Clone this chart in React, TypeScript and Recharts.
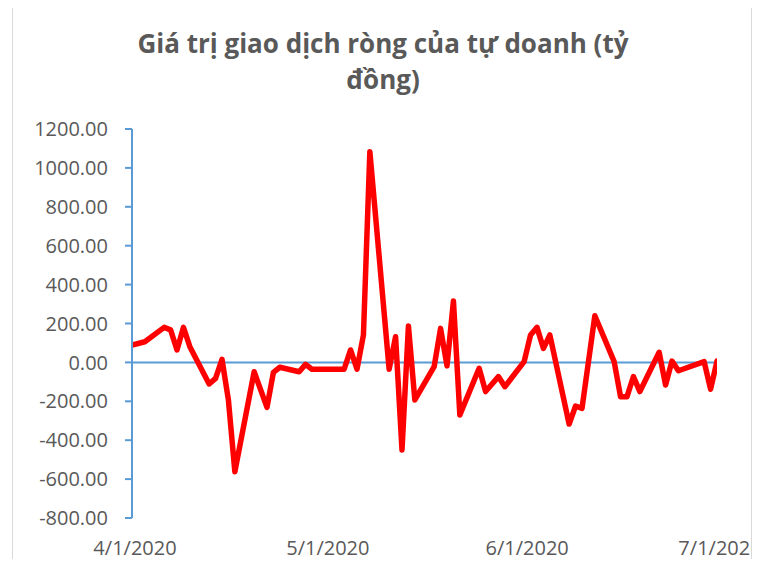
import { LineChart, Line, XAxis, YAxis, ReferenceLine } from 'recharts';

const AXIS_BLUE = '#5b9bd5';
const TEXT_GRAY = '#595959';
const FONT = '"Open Sans", "Liberation Sans", sans-serif';

const TITLE_LINES = ['Giá trị giao dịch ròng của tự doanh (tỷ', 'đồng)'];

// ngày giao dịch
const DATES = [
  '2020-04-01', '2020-04-03', '2020-04-06', '2020-04-07', '2020-04-08', '2020-04-09', '2020-04-10',
  '2020-04-13', '2020-04-14', '2020-04-15', '2020-04-16', '2020-04-17',
  '2020-04-20', '2020-04-22', '2020-04-23', '2020-04-24',
  '2020-04-27', '2020-04-28', '2020-04-29',
  '2020-05-04', '2020-05-05', '2020-05-06', '2020-05-07', '2020-05-08',
  '2020-05-11', '2020-05-12', '2020-05-13', '2020-05-14', '2020-05-15',
  '2020-05-18', '2020-05-19', '2020-05-20', '2020-05-21', '2020-05-22',
  '2020-05-25', '2020-05-26', '2020-05-28', '2020-05-29',
  '2020-06-01', '2020-06-02', '2020-06-03', '2020-06-04', '2020-06-05',
  '2020-06-08', '2020-06-09', '2020-06-10', '2020-06-12',
  '2020-06-15', '2020-06-16', '2020-06-17', '2020-06-18', '2020-06-19',
  '2020-06-22', '2020-06-23', '2020-06-24', '2020-06-25',
  '2020-06-29', '2020-06-30', '2020-07-01',
];

// giá trị ròng (tỷ đồng)
const VALUES = [
  89, 106, 180, 167, 64, 180, 81,
  -111, -82, 16, -194, -562,
  -48, -231, -51, -25,
  -48, -10, -35,
  -35, 64, -35, 141, 1083,
  -35, 132, -450, 187, -193,
  -22, 175, -18, 316, -270,
  -30, -150, -73, -125,
  4, 141, 180, 72, 141,
  -317, -224, -236, 240,
  4, -176, -176, -73, -150,
  52, -116, 7, -43,
  4, -138, 7,
];

const X_TICKS = ['2020-04-01', '2020-05-01', '2020-06-01', '2020-07-01'];
const Y_TICKS = [-800, -600, -400, -200, 0, 200, 400, 600, 800, 1000, 1200];

const toTime = (d: string) => Date.parse(d + 'T00:00:00Z');

const data = DATES.map((d, i) => ({ t: toTime(d), v: VALUES[i] }));

const fmtDate = (t: number) => {
  const d = new Date(t);
  return `${d.getUTCMonth() + 1}/${d.getUTCDate()}/${d.getUTCFullYear()}`;
};

export default function App() {
  return (
    <div style={{ position: 'relative', width: 760, height: 567, margin: -8, fontFamily: FONT }}>
      <div
        style={{
          position: 'absolute',
          left: 12,
          top: 6,
          width: 738,
          height: 570,
          border: '1px solid #d9d9d9',
          overflow: 'hidden',
          background: '#fff',
        }}
      >
        <div style={{ position: 'absolute', left: -13, top: -7 }}>
          <div
            style={{
              position: 'absolute',
              left: 0,
              top: 25,
              width: 766,
              textAlign: 'center',
              color: TEXT_GRAY,
              fontWeight: 700,
              fontSize: 26,
              lineHeight: '36px',
            }}
          >
            {TITLE_LINES.map((l) => (
              <div key={l}>{l}</div>
            ))}
          </div>
          <LineChart
            width={760}
            height={567}
            data={data}
            margin={{ top: 129, right: 43, bottom: 19, left: 0 }}
          >
            <XAxis
              dataKey="t"
              type="number"
              scale="time"
              domain={[toTime(X_TICKS[0]), toTime(X_TICKS[X_TICKS.length - 1])]}
              ticks={X_TICKS.map(toTime)}
              tickFormatter={fmtDate}
              axisLine={false}
              tickLine={false}
              tickSize={0}
              tickMargin={23}
              height={30}
              interval={0}
              allowDataOverflow
              tick={{ fill: TEXT_GRAY, fontSize: 20, fontFamily: FONT, dx: 3 }}
            />
            <YAxis
              type="number"
              domain={[-800, 1200]}
              ticks={Y_TICKS}
              interval={0}
              width={132}
              tickSize={7}
              tickMargin={17}
              tickFormatter={(v: number) => v.toFixed(2)}
              axisLine={{ stroke: AXIS_BLUE, strokeWidth: 2 }}
              tickLine={{ stroke: AXIS_BLUE, strokeWidth: 2 }}
              tick={{ fill: TEXT_GRAY, fontSize: 20, fontFamily: FONT }}
            />
            <ReferenceLine y={0} stroke={AXIS_BLUE} strokeWidth={2} />
            <Line
              type="linear"
              dataKey="v"
              stroke="#ff0000"
              strokeWidth={5.5}
              strokeLinejoin="round"
              strokeLinecap="round"
              dot={false}
              activeDot={false}
              isAnimationActive={false}
            />
          </LineChart>
        </div>
      </div>
    </div>
  );
}
